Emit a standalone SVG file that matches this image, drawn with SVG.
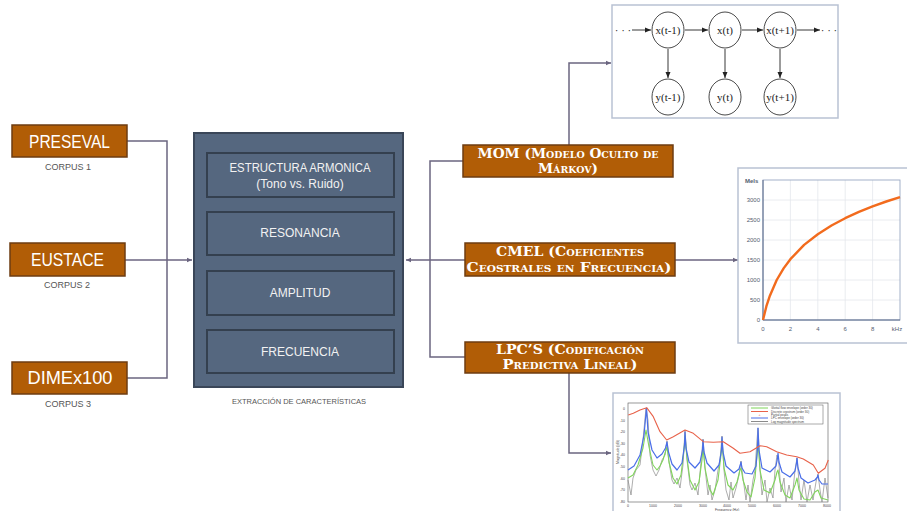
<svg xmlns="http://www.w3.org/2000/svg" width="907" height="511" viewBox="0 0 907 511">
<style>
.ob{fill:#B15D06;stroke:#6e3d12;stroke-width:1.5}
.obt{font-family:"Liberation Sans",Arial,sans-serif;font-size:18px;fill:#ffffff;text-anchor:middle}
.cap{font-family:"Liberation Sans",Arial,sans-serif;font-size:9px;fill:#555555;text-anchor:middle}
.sc{font-family:"DejaVu Serif","Liberation Serif",serif;font-weight:bold;font-size:13px;font-variant:small-caps;fill:#ffffff;text-anchor:middle}
.big{fill:#55677f;stroke:#3a4658;stroke-width:2}
.inner{fill:#55677f;stroke:#34404f;stroke-width:2}
.it{font-family:"Liberation Sans",Arial,sans-serif;font-size:12px;fill:#f2f2f2;text-anchor:middle}
.con{fill:none;stroke:#6b6580;stroke-width:1.5}
.frame{fill:#ffffff;stroke:#b9c2d3;stroke-width:1.5}
.hn{fill:#ffffff;stroke:#333333;stroke-width:0.9}
.ht{font-family:"Liberation Serif","Times New Roman",serif;font-size:11px;fill:#222222;text-anchor:middle}
.ha{fill:none;stroke:#222222;stroke-width:0.9}
.tl{font-family:"Liberation Sans",Arial,sans-serif;font-size:6px;fill:#556070}
.tiny{font-family:"Liberation Sans",Arial,sans-serif;font-size:3.5px;fill:#444444}
</style>
<defs>
<marker id="arr" markerWidth="6" markerHeight="6" refX="5" refY="3" orient="auto" markerUnits="userSpaceOnUse">
<path d="M0,0.8 L5,3 L0,5.2 Z" fill="#6b6580"/>
</marker>
<marker id="ha" markerWidth="7" markerHeight="6" refX="6" refY="3" orient="auto" markerUnits="userSpaceOnUse">
<path d="M0,0.5 L6,3 L0,5.5 Z" fill="#222222"/>
</marker>
</defs>
<rect width="907" height="511" fill="#ffffff"/>

<g id="connectors">
<polyline class="con" points="127,141 167,141 167,378 127,378"/>
<line class="con" x1="125" y1="260" x2="192" y2="260" marker-end="url(#arr)"/>
<polyline class="con" points="463,161 430,161 430,357 465,357"/>
<line class="con" x1="465" y1="260" x2="406" y2="260" marker-end="url(#arr)"/>
<polyline class="con" points="569,145 569,63 611,63" marker-end="url(#arr)"/>
<line class="con" x1="675" y1="260" x2="738" y2="260" marker-end="url(#arr)"/>
<polyline class="con" points="569,373 569,453 611,453" marker-end="url(#arr)"/>
</g>

<g id="preseval">
<rect class="ob" x="12" y="125" width="115" height="32"/>
<text class="obt" x="69.5" y="148" textLength="81" lengthAdjust="spacingAndGlyphs">PRESEVAL</text>
<text class="cap" x="68" y="170">CORPUS 1</text>
</g>
<g id="eustace">
<rect class="ob" x="10" y="243" width="115" height="33"/>
<text class="obt" x="67.5" y="266" textLength="73" lengthAdjust="spacingAndGlyphs">EUSTACE</text>
<text class="cap" x="67" y="288">CORPUS 2</text>
</g>
<g id="dimex100">
<rect class="ob" x="12" y="362" width="115" height="32"/>
<text class="obt" x="70" y="384" textLength="85" lengthAdjust="spacingAndGlyphs">DIMEx100</text>
<text class="cap" x="68" y="407">CORPUS 3</text>
</g>

<g id="extraccion">
<rect class="big" x="194" y="133" width="209" height="254"/>
<rect class="inner" x="207" y="153" width="187" height="44"/>
<text class="it" x="300" y="172" textLength="141" lengthAdjust="spacingAndGlyphs">ESTRUCTURA ARMONICA</text>
<text class="it" x="300" y="188">(Tono vs. Ruido)</text>
<rect class="inner" x="207" y="212" width="187" height="43"/>
<text class="it" x="300" y="237">RESONANCIA</text>
<rect class="inner" x="207" y="271" width="187" height="44"/>
<text class="it" x="300" y="297">AMPLITUD</text>
<rect class="inner" x="207" y="330" width="187" height="43"/>
<text class="it" x="300" y="356">FRECUENCIA</text>
<text class="cap" x="299" y="404" style="font-size:7.5px">EXTRACCIÓN DE CARACTERÍSTICAS</text>
</g>

<g id="mom">
<rect class="ob" x="463" y="145" width="210" height="32"/>
<text class="sc" x="568" y="158" textLength="181" lengthAdjust="spacingAndGlyphs">MOM (Modelo Oculto de</text>
<text class="sc" x="568" y="173" textLength="60" lengthAdjust="spacingAndGlyphs">Márkov)</text>
</g>
<g id="cmel">
<rect class="ob" x="465" y="243" width="210" height="33"/>
<text class="sc" x="570" y="256" textLength="148" lengthAdjust="spacingAndGlyphs">CMEL (Coeficientes</text>
<text class="sc" x="569" y="272" textLength="205" lengthAdjust="spacingAndGlyphs">Ceostrales en Frecuencia)</text>
</g>
<g id="lpcs">
<rect class="ob" x="465" y="342" width="210" height="31"/>
<text class="sc" x="570" y="354" textLength="148" lengthAdjust="spacingAndGlyphs">LPC’S (Codificación</text>
<text class="sc" x="570" y="369" textLength="135" lengthAdjust="spacingAndGlyphs">Predictiva Lineal)</text>
</g>

<g id="hmm">
<rect class="frame" x="612" y="5" width="226" height="113"/>
<text class="ht" x="623" y="34">· · ·</text>
<line class="ha" x1="632" y1="30" x2="651" y2="30" marker-end="url(#ha)"/>
<ellipse class="hn" cx="668" cy="30" rx="16" ry="18"/>
<text class="ht" x="668" y="34">x(t-1)</text>
<line class="ha" x1="685" y1="30" x2="708" y2="30" marker-end="url(#ha)"/>
<ellipse class="hn" cx="725" cy="30" rx="16" ry="18"/>
<text class="ht" x="725" y="34">x(t)</text>
<line class="ha" x1="742" y1="30" x2="763" y2="30" marker-end="url(#ha)"/>
<ellipse class="hn" cx="780" cy="30" rx="16" ry="18"/>
<text class="ht" x="780" y="34">x(t+1)</text>
<line class="ha" x1="797" y1="30" x2="820" y2="30" marker-end="url(#ha)"/>
<text class="ht" x="829" y="34">· · ·</text>
<line class="ha" x1="668" y1="49" x2="668" y2="78" marker-end="url(#ha)"/>
<line class="ha" x1="725" y1="49" x2="725" y2="78" marker-end="url(#ha)"/>
<line class="ha" x1="780" y1="49" x2="780" y2="78" marker-end="url(#ha)"/>
<ellipse class="hn" cx="668" cy="97" rx="16" ry="18"/>
<text class="ht" x="668" y="101">y(t-1)</text>
<ellipse class="hn" cx="725" cy="97" rx="16" ry="18"/>
<text class="ht" x="725" y="101">y(t)</text>
<ellipse class="hn" cx="780" cy="97" rx="16" ry="18"/>
<text class="ht" x="780" y="101">y(t+1)</text>
</g>

<g id="mel-chart">
<rect class="frame" x="738" y="168" width="175" height="175"/>
<g stroke="#e4e7ec" stroke-width="0.8">
<line x1="790.4" y1="180" x2="790.4" y2="320"/>
<line x1="817.8" y1="180" x2="817.8" y2="320"/>
<line x1="845.2" y1="180" x2="845.2" y2="320"/>
<line x1="872.6" y1="180" x2="872.6" y2="320"/>
<line x1="763" y1="200" x2="900" y2="200"/>
<line x1="763" y1="220" x2="900" y2="220"/>
<line x1="763" y1="240" x2="900" y2="240"/>
<line x1="763" y1="260" x2="900" y2="260"/>
<line x1="763" y1="280" x2="900" y2="280"/>
<line x1="763" y1="300" x2="900" y2="300"/>
</g>
<rect x="763" y="180" width="137" height="140" fill="none" stroke="#9aa8c4" stroke-width="0.9"/>
<line x1="763" y1="180" x2="763" y2="320" stroke="#5a6a8a" stroke-width="1"/>
<line x1="763" y1="320" x2="900" y2="320" stroke="#5a6a8a" stroke-width="1"/>
<polyline fill="none" stroke="#f26b1d" stroke-width="2.4" stroke-linejoin="round" points="763,320 766.4,306.2 769.9,295.7 776.7,280 783.6,268.4 790.4,259.2 804.1,244.9 817.8,234.2 831.5,225.5 845.2,218.2 858.9,211.9 872.6,206.4 886.3,201.5 900,197.1"/>
<text class="tl" x="745" y="183" style="font-weight:bold">Mels</text>
<g class="tl" text-anchor="end">
<text x="760" y="202">3000</text>
<text x="760" y="222">2500</text>
<text x="760" y="242">2000</text>
<text x="760" y="262">1500</text>
<text x="760" y="282">1000</text>
<text x="760" y="302">500</text>
<text x="760" y="322">0</text>
</g>
<g class="tl" text-anchor="middle">
<text x="763" y="331">0</text>
<text x="790.4" y="331">2</text>
<text x="817.8" y="331">4</text>
<text x="845.2" y="331">6</text>
<text x="872.6" y="331">8</text>
<text x="897" y="331">kHz</text>
</g>
</g>

<g id="lpc-chart">
<rect class="frame" x="613" y="393" width="227" height="125"/>
<rect x="628" y="403" width="200" height="99" fill="none" stroke="#555555" stroke-width="0.6"/>
<g class="tiny" text-anchor="end">
<text x="625" y="410">0</text>
<text x="625" y="422">-10</text>
<text x="625" y="433">-20</text>
<text x="625" y="445">-30</text>
<text x="625" y="456">-40</text>
<text x="625" y="468">-50</text>
<text x="625" y="480">-60</text>
<text x="625" y="491">-70</text>
<text x="625" y="503">-80</text>
</g>
<g class="tiny" text-anchor="middle">
<text x="628" y="507">0</text>
<text x="653" y="507">1000</text>
<text x="678" y="507">2000</text>
<text x="703" y="507">3000</text>
<text x="727" y="507">4000</text>
<text x="752" y="507">5000</text>
<text x="777" y="507">6000</text>
<text x="802" y="507">7000</text>
<text x="827" y="507">8000</text>
<text x="727" y="511">Frequency (Hz)</text>
<text x="0" y="0" transform="translate(619,452) rotate(-90)">Magnitude (dB)</text>
</g>
<polyline fill="none" stroke="#8a8a8a" stroke-width="0.7" points="628,480 631,495 633,478 636,470 640,465 643,440 646,408 648,420 650,455 653,470 656,476 659,470 662,460 665,455 667,441 669,462 672,480 674,484 677,478 680,488 683,465 685,430 687,460 690,485 692,490 695,483 698,495 701,462 703,439 705,468 708,495 710,485 712,500 715,490 718,470 720,460 722,436 724,470 726,490 729,500 731,482 733,498 736,488 739,475 741,461 743,478 746,500 748,485 750,502 753,480 755,470 757,440 758,428 760,470 762,495 765,480 767,502 770,488 773,498 775,470 777,455 779,465 781,492 784,478 786,502 789,485 792,500 795,470 797,458 799,482 801,500 804,480 807,502 810,485 813,500 816,482 818,474 820,490 822,502 825,478 828,498"/>
<polyline fill="none" stroke="#7fd45a" stroke-width="1.1" stroke-linejoin="round" points="628,478 633,475 638,465 643,448 646,430 649,447 653,465 657,470 660,466 663,460 666,450 667,447 669,462 673,478 677,484 681,475 684,450 685,436 687,458 690,480 695,490 699,482 702,460 703,448 705,468 709,488 713,495 718,480 721,455 722,440 724,468 728,485 733,490 737,482 740,470 741,468 743,480 747,492 751,497 755,478 757,455 758,442 760,470 764,490 770,493 775,480 777,472 778,470 780,482 785,495 790,498 795,485 797,478 799,490 804,499 810,500 815,492 818,490 821,498 828,500"/>
<polyline fill="none" stroke="#4a6ee8" stroke-width="1.2" stroke-linejoin="round" points="628,470 634,466 640,455 644,435 646.5,408 648,432 652,450 657,458 662,454 665.5,448 667,442 668.5,452 672,464 677,470 682,463 684.5,445 685,432 686,448 689,462 695,468 700,462 702.5,450 703,440 704,452 707,463 714,471 719,465 721.5,450 722,437 723,452 726,466 734,473 739,469 740.5,464 741,462 742,468 745,473 752,474 756,466 757.5,448 758,428 759,450 762,468 770,472 776,466 777.5,458 778,453 779,462 782,472 790,477 795,471 796.5,463 797,458 798,468 801,478 808,483 815,480 817.5,477 818,475 819,480 822,484 828,484"/>
<polyline fill="none" stroke="#e8624a" stroke-width="1.1" stroke-linejoin="round" points="628.3,415 633.3,413.3 640,410 646.7,407.7 653.3,416.7 660,431.7 666.7,440 673.3,436.7 685,430 693.3,433.3 703.3,441.7 713.3,442.3 723.3,441.7 733.3,448.3 740,453.3 750,451.7 760,445.7 766.7,446.7 776.7,451.7 786.7,455 796.7,456.7 803.3,459 813.3,465 818.3,473.3 825,468.3 828.3,460"/>
<rect x="748" y="405" width="75" height="19" fill="#ffffff" stroke="#555555" stroke-width="0.5"/>
<line x1="751" y1="408" x2="768" y2="408" stroke="#7fd45a" stroke-width="1"/>
<line x1="751" y1="411.5" x2="768" y2="411.5" stroke="#e8624a" stroke-width="1"/>
<text x="759.5" y="416" class="tiny" fill="#e8624a" text-anchor="middle" style="fill:#e8624a">+</text>
<line x1="751" y1="418" x2="768" y2="418" stroke="#4a6ee8" stroke-width="1"/>
<line x1="751" y1="421.5" x2="768" y2="421.5" stroke="#8a8a8a" stroke-width="1"/>
<g class="tiny" style="font-size:3px">
<text x="771" y="409">Glottal flow envelope (order 30)</text>
<text x="771" y="412.5">Discrete cepstrum (order 30)</text>
<text x="771" y="416">Partial peaks</text>
<text x="771" y="419">LPC envelope (order 30)</text>
<text x="771" y="422.5">Log magnitude spectrum</text>
</g>
</g>
</svg>
